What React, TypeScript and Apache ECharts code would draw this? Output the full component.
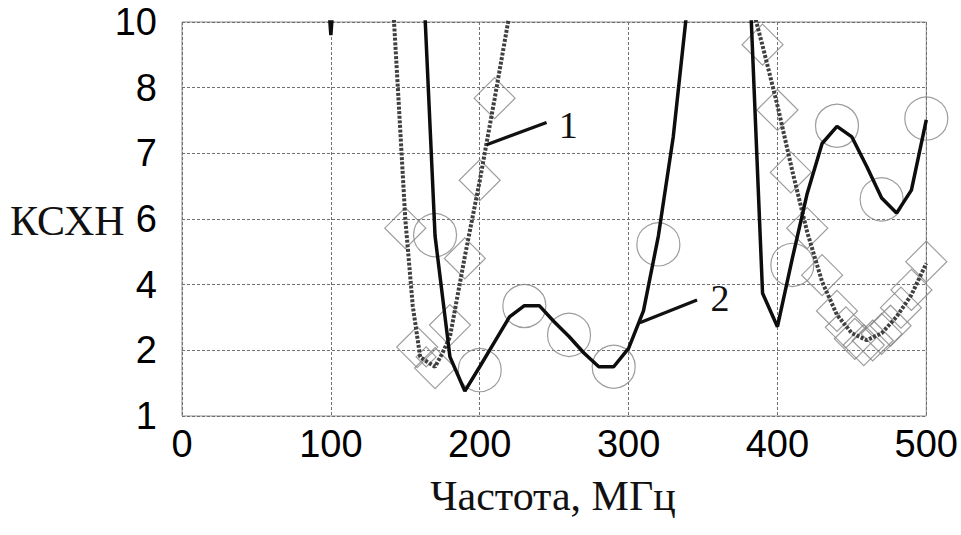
import React, { useEffect, useRef } from "react";
import * as echarts from "echarts";

// Y axis: evenly spaced tick labels (non-linear КСХН scale)
const Y_TICKS = [1, 2, 4, 6, 7, 8, 10];
const X_MIN = 0;
const X_MAX = 500;
const X_STEP = 100;

// Curve 1 (dotted) – frequency, MHz / VSWR
const curve1Freq = [140, 145, 150, 155, 160, 165, 170, 175, 180, 190, 200, 210, 220, 380, 390, 400, 410, 420, 430, 440, 450, 460, 470, 480, 490, 500];
const curve1Vswr = [11.9, 8.0, 6.0, 3.36, 1.9, 1.82, 1.75, 1.96, 2.41, 4.86, 6.58, 7.83, 10.24, 11.0, 9.28, 7.73, 6.73, 5.6, 4.09, 3.08, 2.52, 2.31, 2.52, 3.02, 3.69, 4.65];

// Curve 2 (solid)
const curve2Freq = [90, 100, 110, 160, 170, 180, 190, 200, 210, 220, 230, 240, 250, 260, 270, 280, 290, 300, 310, 320, 330, 340, 380, 390, 400, 410, 420, 430, 440, 450, 460, 470, 480, 490, 500];
const curve2Vswr = [16, 9.6, 16, 13.4, 5.48, 1.9, 1.38, 1.75, 2.26, 3.02, 3.36, 3.36, 2.87, 2.42, 1.96, 1.75, 1.75, 2.06, 3.2, 5.48, 7.25, 10.7, 12.7, 3.74, 2.72, 4.8, 6.39, 7.15, 7.41, 7.25, 6.8, 6.32, 6.09, 6.44, 7.51];

// Measured points, curve 1 (diamonds)
const diamondFreq = [150, 158, 170, 180, 190, 200, 210, 390, 400, 409, 420, 430, 440, 446, 452, 458, 464, 470, 476, 483, 490, 500];
const diamondVswr = [5.72, 2.1, 1.73, 2.77, 4.8, 6.59, 7.84, 9.31, 7.66, 6.71, 5.72, 4.29, 3.2, 2.7, 2.35, 2.16, 2.3, 2.5, 2.75, 3.3, 3.84, 4.7];
const smallDiamondFreq = [164];
const smallDiamondVswr = [1.9];

// Measured points, curve 2 (circles)
const circleFreq = [170, 200, 230, 260, 290, 320, 410, 440, 470, 500];
const circleVswr = [5.51, 1.7, 3.35, 2.47, 1.75, 5.23, 4.6, 7.42, 6.3, 7.53];

// Curve labels: leader start, leader end, text anchor (freq, VSWR)
const labelTexts = ["1", "2"];
const leaderStart = [[204.6, 7.13], [307.5, 2.84]];
const leaderEnd = [[244.9, 7.47], [346.0, 3.53]];
const labelAnchor = [[259.4, 7.43], [361.4, 3.58]];

const Y_TITLE = "КСХН";
const X_TITLE = "Частота, МГц";

function toAxis(v: number): number {
  const n = Y_TICKS.length;
  for (let i = 0; i < n - 1; i++) {
    if (v <= Y_TICKS[i + 1]) {
      return i + (v - Y_TICKS[i]) / (Y_TICKS[i + 1] - Y_TICKS[i]);
    }
  }
  return n - 1 + (v - Y_TICKS[n - 1]) / (Y_TICKS[n - 1] - Y_TICKS[n - 2]);
}

function pairs(xs: number[], ys: number[]) {
  return xs.map((x, i) => [x, toAxis(ys[i])]);
}

export default function App() {
  const ref = useRef<HTMLDivElement>(null);

  useEffect(() => {
    if (!ref.current) return;
    const chart = echarts.init(ref.current, null, { renderer: "svg" });
    const gridLine = { show: true, lineStyle: { color: "#707070", width: 1, type: [3, 2] as any } };
    const markerStyle = { color: "rgba(0,0,0,0)", borderColor: "#858585", borderWidth: 1.2 };
    const option: any = {
      animation: false,
      backgroundColor: "#ffffff",
      grid: {
        left: 182,
        right: 34,
        top: 22,
        bottom: 119,
        show: true,
        borderColor: "#8c8c8c",
        borderWidth: 1,
        backgroundColor: "transparent",
      },
      xAxis: {
        type: "value",
        min: X_MIN,
        max: X_MAX,
        interval: X_STEP,
        axisLine: { show: false },
        axisTick: { show: false },
        splitLine: gridLine,
        axisLabel: {
          fontFamily: "Liberation Sans",
          fontSize: 38,
          color: "#000",
          margin: 9,
        },
      },
      yAxis: {
        type: "value",
        min: 0,
        max: Y_TICKS.length - 1,
        interval: 1,
        axisLine: { show: false },
        axisTick: { show: false },
        splitLine: gridLine,
        axisLabel: {
          fontFamily: "Liberation Sans",
          fontSize: 38,
          color: "#000",
          margin: 25,
          formatter: (val: number) => String(Y_TICKS[Math.round(val)]),
        },
      },
      series: [
        {
          type: "scatter",
          name: "diamonds",
          data: pairs(diamondFreq, diamondVswr),
          symbol: "diamond",
          symbolSize: 41,
          z: 1,
          itemStyle: markerStyle,
        },
        {
          type: "scatter",
          name: "diamondsSmall",
          data: pairs(smallDiamondFreq, smallDiamondVswr),
          symbol: "diamond",
          symbolSize: 20,
          z: 1,
          itemStyle: markerStyle,
        },
        {
          type: "scatter",
          name: "circles",
          data: pairs(circleFreq, circleVswr),
          symbol: "circle",
          symbolSize: 43,
          z: 1,
          itemStyle: markerStyle,
        },
        {
          type: "line",
          name: "1",
          data: pairs(curve1Freq, curve1Vswr),
          showSymbol: false,
          symbol: "none",
          z: 3,
          lineStyle: { color: "#404040", width: 4, type: [3, 1.6] },
        },
        {
          type: "line",
          name: "2",
          data: pairs(curve2Freq, curve2Vswr),
          showSymbol: false,
          symbol: "none",
          z: 4,
          lineStyle: { color: "#0d0d0d", width: 3.5 },
        },
      ],
    };
    chart.setOption(option);

    const px = (p: number[]) => chart.convertToPixel({ gridIndex: 0 }, [p[0], toAxis(p[1])]) as number[];
    const graphics: any[] = [];
    labelTexts.forEach((t, i) => {
      const a = px(leaderStart[i]);
      const b = px(leaderEnd[i]);
      const c = px(labelAnchor[i]);
      graphics.push({
        type: "line",
        shape: { x1: a[0], y1: a[1], x2: b[0], y2: b[1] },
        style: { stroke: "#111", lineWidth: 3.2 },
        z: 10,
      });
      graphics.push({
        type: "text",
        x: c[0],
        y: c[1],
        z: 10,
        style: {
          text: t,
          font: "38px 'Liberation Serif'",
          fill: "#111",
          textAlign: "center",
          textVerticalAlign: "middle",
        },
      });
    });
    graphics.push({
      type: "text",
      x: 10,
      y: 221,
      style: {
        text: Y_TITLE,
        font: "42px 'Liberation Serif'",
        fill: "#111",
        textAlign: "left",
        textVerticalAlign: "middle",
      },
    });
    graphics.push({
      type: "text",
      x: 553,
      y: 496,
      style: {
        text: X_TITLE,
        font: "42px 'Liberation Serif'",
        fill: "#111",
        textAlign: "center",
        textVerticalAlign: "middle",
      },
    });
    chart.setOption({ graphic: graphics });

    return () => chart.dispose();
  }, []);

  return (
    <div
      ref={ref}
      style={{ position: "fixed", left: 0, top: 0, width: 961, height: 535, background: "#fff" }}
    />
  );
}
